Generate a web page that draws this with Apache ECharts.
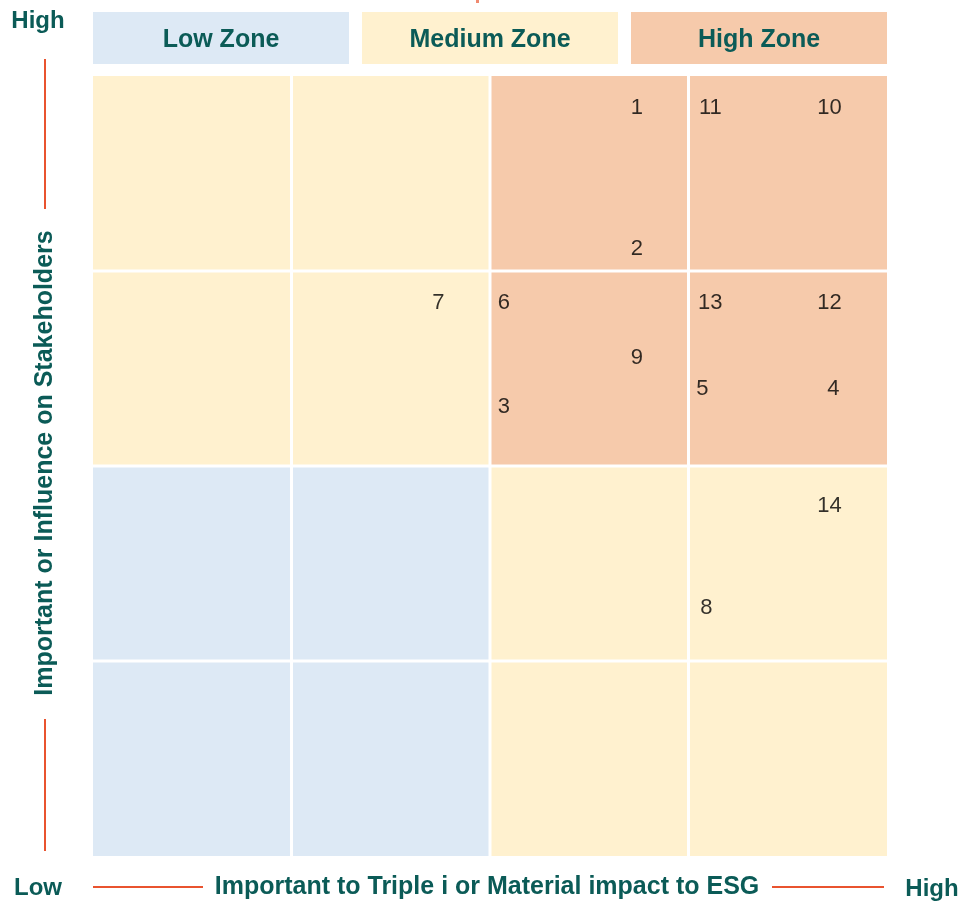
<!DOCTYPE html>
<html>
<head>
<meta charset="utf-8">
<script src="https://cdn.jsdelivr.net/npm/echarts@6/dist/echarts.min.js"></script>
<style>
html,body{margin:0;padding:0;background:#fff;}
#chart{width:965px;height:904px;}
</style>
</head>
<body>
<div id="chart"></div>
<script>
// ---- data ----
var zoneNames = ['Low Zone', 'Medium Zone', 'High Zone'];
// cell grid: [column, row, zoneIndex] (row 0 = bottom)
var cellCols = [0, 1, 2, 3, 0, 1, 2, 3, 0, 1, 2, 3, 0, 1, 2, 3];
var cellRows = [0, 0, 0, 0, 1, 1, 1, 1, 2, 2, 2, 2, 3, 3, 3, 3];
var cellZones = [0, 0, 1, 1, 0, 0, 1, 1, 1, 1, 2, 2, 1, 1, 2, 2];
// issues: label, x (triple i / ESG impact), y (stakeholder influence)
var issueLabels = ['1', '11', '10', '2', '7', '6', '13', '12', '9', '5', '4', '3', '14', '8'];
var issueX = [2.74, 3.11, 3.71, 2.74, 1.74, 2.07, 3.11, 3.71, 2.74, 3.07, 3.73, 2.07, 3.71, 3.09];
var issueY = [3.85, 3.85, 3.85, 3.13, 2.85, 2.85, 2.85, 2.85, 2.57, 2.41, 2.41, 2.32, 1.81, 1.29];
var xAxisTitle = 'Important to Triple i or Material impact to ESG';
var yAxisTitle = 'Important or Influence on Stakeholders';
var lowLabel = 'Low', highLabel = 'High';

// ---- styles ----
var zoneColors = ['#dde9f5', '#fff1cf', '#f6caab'];
var teal = '#0b5b57';
var red = '#e9532f';
var fontFam = '"Liberation Sans", Arial, sans-serif';

var G = {left: 93, right: 887, top: 76, bottom: 856};

var cellData = cellCols.map(function (c, i) { return [c, cellRows[i], cellZones[i]]; });
var issueData = issueLabels.map(function (l, i) { return {name: l, value: [issueX[i], issueY[i]]}; });

var chart = echarts.init(document.getElementById('chart'));

var headerW = (G.right - G.left - 2 * 13) / 3;
var graphics = [];
zoneNames.forEach(function (z, i) {
  var x0 = G.left + i * (headerW + 13);
  graphics.push({
    type: 'rect', shape: {x: x0, y: 12, width: headerW, height: 52},
    style: {fill: zoneColors[i]}
  });
  graphics.push({
    type: 'text', x: x0 + headerW / 2, y: 40,
    style: {text: z, fill: teal, font: 'bold 25px ' + fontFam, textAlign: 'center', textVerticalAlign: 'middle'}
  });
});
// y axis decorations
graphics.push({type: 'text', x: 38, y: 21, style: {text: highLabel, fill: teal, font: 'bold 24px ' + fontFam, textAlign: 'center', textVerticalAlign: 'middle'}});
graphics.push({type: 'line', shape: {x1: 45, y1: 59, x2: 45, y2: 209}, style: {stroke: red, lineWidth: 2}});
graphics.push({type: 'text', x: 45, y: 463, rotation: Math.PI / 2,
  style: {text: yAxisTitle, fill: teal, font: 'bold 25px ' + fontFam, textAlign: 'center', textVerticalAlign: 'middle'}});
graphics.push({type: 'line', shape: {x1: 45, y1: 719, x2: 45, y2: 851}, style: {stroke: red, lineWidth: 2}});
// x axis decorations
graphics.push({type: 'text', x: 38, y: 888, style: {text: lowLabel, fill: teal, font: 'bold 24px ' + fontFam, textAlign: 'center', textVerticalAlign: 'middle'}});
graphics.push({type: 'line', shape: {x1: 93, y1: 887, x2: 203, y2: 887}, style: {stroke: red, lineWidth: 2}});
graphics.push({type: 'text', x: 487, y: 887, style: {text: xAxisTitle, fill: teal, font: 'bold 25px ' + fontFam, textAlign: 'center', textVerticalAlign: 'middle'}});
graphics.push({type: 'line', shape: {x1: 772, y1: 887, x2: 884, y2: 887}, style: {stroke: red, lineWidth: 2}});
graphics.push({type: 'text', x: 932, y: 889, style: {text: highLabel, fill: teal, font: 'bold 24px ' + fontFam, textAlign: 'center', textVerticalAlign: 'middle'}});
// small cut-off mark at top
graphics.push({type: 'rect', shape: {x: 476, y: 0, width: 3, height: 3}, style: {fill: '#f08a70'}});

chart.setOption({
  animation: false,
  backgroundColor: '#ffffff',
  grid: {left: G.left, top: G.top, width: G.right - G.left, height: G.bottom - G.top},
  xAxis: {type: 'value', min: 0, max: 4, interval: 1, show: false},
  yAxis: {type: 'value', min: 0, max: 4, interval: 1, show: false},
  graphic: graphics,
  series: [
    {
      type: 'custom',
      data: cellData,
      silent: true,
      renderItem: function (params, api) {
        var c = api.value(0), r = api.value(1), z = api.value(2);
        var p0 = api.coord([c, r + 1]);
        var p1 = api.coord([c + 1, r]);
        var g = 1.5;
        var x0 = c === 0 ? p0[0] : p0[0] + g;
        var x1 = c === 3 ? p1[0] : p1[0] - g;
        var y0 = r === 3 ? p0[1] : p0[1] + g;
        var y1 = r === 0 ? p1[1] : p1[1] - g;
        return {
          type: 'rect',
          shape: {x: x0, y: y0, width: x1 - x0, height: y1 - y0},
          style: {fill: zoneColors[z]}
        };
      },
      z: 1
    },
    {
      type: 'scatter',
      data: issueData,
      symbolSize: 20,
      itemStyle: {color: 'rgba(0,0,0,0)'},
      label: {
        show: true, position: 'inside', offset: [0, 3],
        formatter: function (p) { return p.name; },
        color: '#000000', fontSize: 22, fontFamily: fontFam,
        textBorderWidth: 0
      },
      z: 3
    }
  ]
});
</script>
</body>
</html>
